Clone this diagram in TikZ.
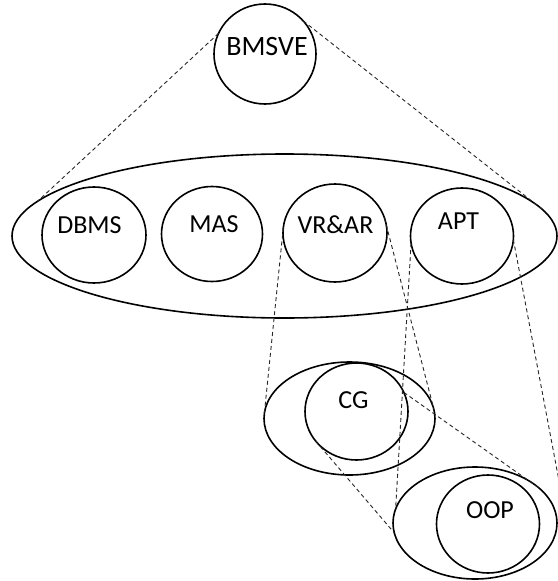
\documentclass[tikz,border=0pt]{standalone}
\usepackage{fontspec}
\setmainfont{Carlito}
\usetikzlibrary{shapes.geometric}
\begin{document}
\begin{tikzpicture}[x=1pt,y=-1pt,
  oval/.style={draw, line width=1.6pt, ellipse, inner sep=0pt, outer sep=0pt},
  lbl/.style={anchor=base, inner sep=0pt, font=\fontsize{26}{31}\selectfont},
  link/.style={line width=0.9pt, black!85, dash pattern=on 4pt off 3pt}]
\useasboundingbox (0,0) rectangle (557,581);
% ovals
\node[oval, minimum width=102pt, minimum height=100pt] (bmsve) at (265,54) {};
\node[oval, minimum width=545pt, minimum height=164pt] (big) at (284.5,236) {};
\node[oval, minimum width=104pt, minimum height=96pt] (dbms) at (94,235) {};
\node[oval, minimum width=101pt, minimum height=95pt] (mas) at (212,234) {};
\node[oval, minimum width=104pt, minimum height=98pt] (vrar) at (335,233) {};
\node[oval, minimum width=103pt, minimum height=96pt] (apt) at (462,236) {};
\node[oval, minimum width=171pt, minimum height=113pt] (cgo) at (349.5,418.5) {};
\node[oval, minimum width=103pt, minimum height=97pt] (cgi) at (356.5,411.5) {};
\node[oval, minimum width=164pt, minimum height=112pt] (oopo) at (475,523) {};
\node[oval, minimum width=103pt, minimum height=98pt] (oopi) at (488,524) {};
% labels
\node[lbl, font=\fontsize{28}{33}\selectfont] (tbmsve) at (267,55) {BMSVE};
\node[lbl] (tdbms) at (89.5,233) {DBMS};
\node[lbl] (tmas) at (214,232) {MAS};
\node[lbl] (tvrar) at (335.5,233) {VR\&AR};
\node[lbl] (tapt) at (458.5,229) {APT};
\node[lbl] (tcg) at (353.5,408) {CG};
\node[lbl] (toop) at (490,518) {OOP};
% dashed connectors
\coordinate (aptend) at (567,523);
\draw[link] (bmsve.156) -- (big.172);
\draw[link] (bmsve.41) -- (big.6);
\draw[link] (vrar.174) -- (cgo.178);
\draw[link] (vrar.17) -- (cgo.6);
\draw[link] (apt.188) -- (oopo.170);
\draw[link] (apt.356) -- (aptend);
\draw[link] (cgi.22) -- (oopo.29);
\draw[link] (cgi.216) -- (oopo.187);
\end{tikzpicture}
\end{document}
